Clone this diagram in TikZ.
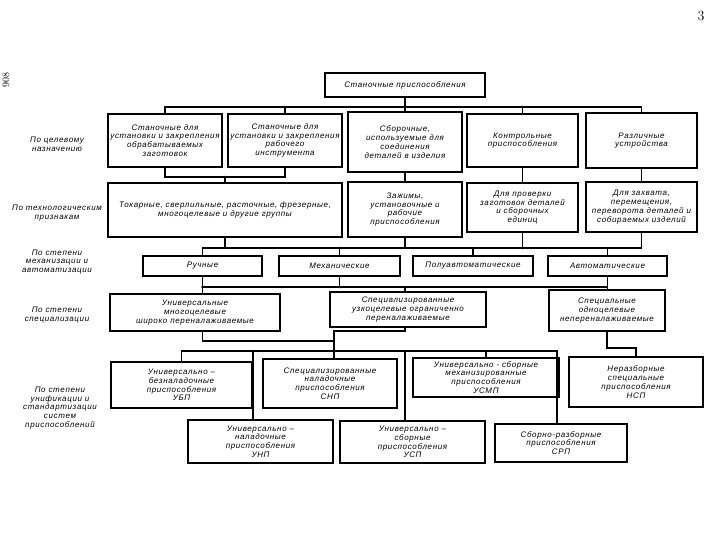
\documentclass[tikz,border=0pt]{standalone}
\usepackage{fontspec}
\newfontfamily\gost{Liberation Sans}[LetterSpace=8]
\newcommand\gostf{\gost\itshape\fontsize{8}{8.8}\selectfont}
\begin{document}
\begin{tikzpicture}[x=1pt,y=-1pt,
  box/.style={draw=black, line width=1.4pt, align=center, inner sep=1pt, font=\gostf},
  lbl/.style={align=center, font=\gostf, inner sep=0pt},
  con/.style={line width=1.2pt, draw=black}]
\fill[white] (0,0) rectangle (720,540);
\useasboundingbox (0,0) rectangle (720,540);

% page marks
\node[font=\fontsize{14}{14}\selectfont] (pg) at (701,16) {3};
\node[font=\fontsize{10}{10}\selectfont, rotate=90] (pg2) at (6,80) {908};

% left labels
\node[lbl] (L1) at (57,144) {По целевому\\назначению};
\node[lbl] (L2) at (57,213) {По технологическим\\признакам};
\node[lbl] (L3) at (57,262) {По степени\\механизации и\\автоматизации};
\node[lbl] (L4) at (57,315) {По степени\\специализации};
\node[lbl] (L5) at (60,408) {По степени\\унификации и\\стандартизации\\систем\\приспособлений};

% boxes
\node[box, minimum width=160pt, minimum height=24pt] (top) at (405,85) {Станочные приспособления};

\node[box, minimum width=114pt, minimum height=53pt] (r1a) at (165,140.5) {Станочные для\\установки и закрепления\\обрабатываемых\\заготовок};
\node[box, minimum width=114pt, minimum height=53pt] (r1b) at (285,140.5) {Станочные для\\установки и закрепления\\рабочего\\инструмента};
\node[box, minimum width=114pt, minimum height=60pt] (r1c) at (405,142) {Сборочные,\\используемые для\\соединения\\деталей в изделия};
\node[box, minimum width=111pt, minimum height=53pt] (r1d) at (522.5,140.5) {Контрольные\\приспособления};
\node[box, minimum width=111pt, minimum height=55pt] (r1e) at (641.5,140.5) {Различные\\устройства};

\node[box, minimum width=234pt, minimum height=54pt] (r2a) at (225,210) {Токарные, сверлильные, расточные, фрезерные,\\многоцелевые и другие группы};
\node[box, minimum width=114pt, minimum height=55pt] (r2b) at (405,209.5) {Зажимы,\\установочные и\\рабочие\\приспособления};
\node[box, minimum width=111pt, minimum height=49pt] (r2c) at (522.5,207.5) {Для проверки\\заготовок деталей\\и сборочных\\единиц};
\node[box, minimum width=111pt, minimum height=50pt] (r2d) at (641.5,207) {Для захвата,\\перемещения,\\переворота деталей и\\собираемых изделий};

\node[box, minimum width=119pt, minimum height=20pt] (r3a) at (202.5,266) {Ручные};
\node[box, minimum width=121pt, minimum height=20pt] (r3b) at (339.5,266) {Механические};
\node[box, minimum width=120pt, minimum height=20pt] (r3c) at (473,266) {Полуавтоматические};
\node[box, minimum width=119pt, minimum height=20pt] (r3d) at (607.5,266) {Автоматические};

\node[box, minimum width=170pt, minimum height=37pt] (r4a) at (195,312.5) {Универсальные\\многоцелевые\\широко переналаживаемые};
\node[box, minimum width=156pt, minimum height=35pt] (r4b) at (408,309.5) {Специализированные\\узкоцелевые ограниченно\\переналаживаемые};
\node[box, minimum width=116pt, minimum height=41pt] (r4c) at (607,310.5) {Специальные\\одноцелевые\\непереналаживаемые};

\node[box, minimum width=141pt, minimum height=46pt] (r5a) at (181.5,385) {Универсально –\\безналадочные\\приспособления\\УБП};
\node[box, minimum width=134pt, minimum height=49pt] (r5b) at (330,383.5) {Специализированные\\наладочные\\приспособления\\СНП};
\node[box, minimum width=146pt, minimum height=39pt] (r5c) at (486,377.5) {Универсально - сборные\\механизированные\\приспособления\\УСМП};
\node[box, minimum width=134pt, minimum height=50pt] (r5d) at (636,382) {Неразборные\\специальные\\приспособления\\НСП};

\node[box, minimum width=145pt, minimum height=43pt] (r6a) at (260.5,441.5) {Универсально –\\наладочные\\приспособления\\УНП};
\node[box, minimum width=145pt, minimum height=42pt] (r6b) at (412.5,442) {Универсально –\\сборные\\приспособления\\УСП};
\node[box, minimum width=132pt, minimum height=38pt] (r6c) at (561,443) {Сборно-разборные\\приспособления\\СРП};

% helper coordinates
\coordinate (bA) at (0,107);
\coordinate (bB) at (0,177);
\coordinate (bC) at (0,248);
\coordinate (bD) at (0,287);
\coordinate (bE) at (0,341);
\coordinate (bF) at (334,331);
\coordinate (bG) at (0,351);
\coordinate (bH) at (0,348);
\coordinate (jx) at (334,0);
\coordinate (jl) at (253,0);
\coordinate (jm) at (405,0);
\coordinate (jr) at (557,0);

% level 0 -> 1
\draw[con] (top.south) -- (top.south |- bA);
\draw[con] (r1a.north) |- (r1e.north |- bA) -- (r1e.north);
\draw[con] (r1b.north) -- (r1b.north |- bA);
\draw[con] (r1c.north) -- (r1c.north |- bA);
\draw[con] (r1d.north) -- (r1d.north |- bA);

% level 1 -> 2
\draw[con] (r1a.south) |- (r1b.south |- bB) -- (r1b.south);
\draw[con] (r2a.north) -- (r2a.north |- bB);
\draw[con] (r1c.south) -- (r2b.north);
\draw[con] (r1d.south) -- (r2c.north);
\draw[con] (r1e.south) -- (r2d.north);

% level 2 -> 3
\draw[con] (r3a.north) |- (r2d.south |- bC) -- (r2d.south);
\draw[con] (r2a.south) -- (r2a.south |- bC);
\draw[con] (r2b.south) -- (r2b.south |- bC);
\draw[con] (r2c.south) -- (r2c.south |- bC);
\draw[con] (r3b.north) -- (r3b.north |- bC);
\draw[con] (r3c.north) -- (r3c.north |- bC);
\draw[con] (r3d.north) -- (r3d.north |- bC);

% level 3 -> 4
\draw[con] (r3a.south) |- (r3d.south |- bD) -- (r3d.south);
\draw[con] (r3b.south) -- (r3b.south |- bD);
\draw[con] (r3a.south |- bD) -- (r3a.south |- r4a.north);
\draw[con] (r2b.south |- bD) -- (r2b.south |- r4b.north);
\draw[con] (r3d.south |- bD) -- (r3d.south |- r4c.north);

% level 4 -> 5
\draw[con] (r3a.south |- r4a.south) -- (r3a.south |- bE) -- (jx |- bE);
\draw[con] (r2b.south |- r4b.south) -- (r2b.south |- bF) -- (bF) -- (jx |- bG);
\draw[con] (r5a.north) |- (jr |- bG) -- (jr |- r6c.north);
\draw[con] (jl |- bG) -- (jl |- r6a.north);
\draw[con] (jx |- bG) -- (jx |- r5b.north);
\draw[con] (jm |- bG) -- (jm |- r6b.north);
\draw[con] (r5c.north) -- (r5c.north |- bG);
\draw[con] (r4c.south) |- (r5d.north |- bH) -- (r5d.north);

% junction dots
\foreach \p in {(r1b.north |- bA),(r1c.north |- bA),(r1d.north |- bA),(r2a.north |- bB),
  (r3b.north |- bC),(r2c.south |- bC),(r3a.south |- bD),(r3b.south |- bD),(r2b.south |- bD),
  (jl |- bG),(jx |- bG)}
  \fill[black] \p circle[radius=1.3pt];
\end{tikzpicture}
\end{document}
